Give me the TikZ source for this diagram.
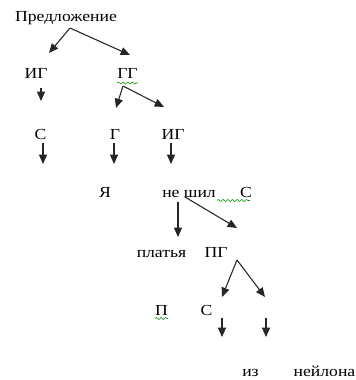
\documentclass[tikz,border=0pt]{standalone}
\usepackage{fontspec}
\setmainfont{Liberation Serif}[FakeStretch=1.15]
\usetikzlibrary{arrows.meta,decorations.pathmorphing}
\begin{document}
\begin{tikzpicture}[x=0.75pt,y=-0.75pt,
  lbl/.style={anchor=base,inner sep=0pt,font=\fontsize{11.5}{13}\selectfont},
  arr/.style={draw=black!85,line width=0.8pt,-{Triangle[length=7pt,width=6pt]}},
  spell/.style={draw=green!55!black,line width=0.4pt,decorate,decoration={snake,segment length=3.5pt,amplitude=0.8pt}}]
\useasboundingbox (0,0) rectangle (356,380);
\node[lbl] (pred) at (66,21) {Предложение};
\node[lbl] (ig1) at (36,78) {ИГ};
\node[lbl] (gg) at (127.5,78) {ГГ};
\node[lbl] (s1) at (40.5,139) {С};
\node[lbl] (g) at (115,139) {Г};
\node[lbl] (ig2) at (173,139) {ИГ};
\node[lbl] (ya) at (105,197) {Я};
\node[lbl] (ne) at (189,197) {не шил};
\node[lbl] (s2) at (246,197) {С};
\node[lbl] (pl) at (161.5,257) {платья};
\node[lbl] (pg) at (216,257) {ПГ};
\node[lbl] (p) at (161.5,315) {П};
\node[lbl] (s3) at (206.5,315) {С};
\node[lbl] (iz) at (250.5,376) {из};
\node[lbl] (ney) at (324.5,376) {нейлона};
% arrows
\draw[arr] ([shift={(4,7)}]pred.base) -- ([shift={(13,-25)}]ig1.base);
\draw[arr] ([shift={(4,7)}]pred.base) -- ([shift={(2.5,-23)}]gg.base);
\draw[arr] ([shift={(5,10)}]ig1.base) -- ([shift={(5,23)}]ig1.base);
\draw[arr] ([shift={(-4.5,8)}]gg.base) -- ([shift={(1,-31)}]g.base);
\draw[arr] ([shift={(-4.5,8)}]gg.base) -- ([shift={(-9,-32)}]ig2.base);
\draw[arr] ([shift={(2.5,4)}]s1.base) -- ([shift={(2.5,25)}]s1.base);
\draw[arr] ([shift={(-1,4)}]g.base) -- ([shift={(-1,25)}]g.base);
\draw[arr] ([shift={(-2,4)}]ig2.base) -- ([shift={(-2,25)}]ig2.base);
\draw[arr] ([shift={(-11,5)}]ne.base) -- ([shift={(16.5,-20)}]pl.base);
\draw[arr] ([shift={(-4,0)}]ne.base) -- ([shift={(21,-29)}]pg.base);
\draw[arr] ([shift={(21,3)}]pg.base) -- ([shift={(15.5,-18)}]s3.base);
\draw[arr] ([shift={(21,3)}]pg.base) -- ([shift={(58.5,-18)}]s3.base);
\draw[arr] ([shift={(15.5,3)}]s3.base) -- ([shift={(15.5,22)}]s3.base);
\draw[arr] ([shift={(59.5,3)}]s3.base) -- ([shift={(59.5,22)}]s3.base);
% spell-check underlines
\draw[spell] ([shift={(-10.5,5)}]gg.base) -- ([shift={(10.5,5)}]gg.base);
\draw[spell] ([shift={(-29,3.5)}]s2.base) -- ([shift={(4,3.5)}]s2.base);
\draw[spell] ([shift={(-6.5,3.5)}]p.base) -- ([shift={(6.5,3.5)}]p.base);
\end{tikzpicture}
\end{document}
